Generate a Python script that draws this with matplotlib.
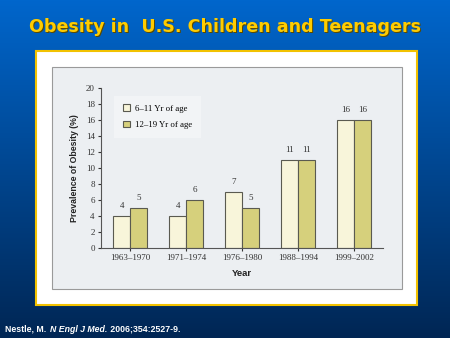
import matplotlib.pyplot as plt
from matplotlib.patches import Rectangle
import numpy as np

# survey periods and obesity prevalence (%) by age group
periods = ["1963\u20131970", "1971\u20131974", "1976\u20131980", "1988\u20131994", "1999\u20132002"]
age_6_11 = [4, 4, 7, 11, 16]
age_12_19 = [5, 6, 5, 11, 16]
series_names = ["6\u201311 Yr of age", "12\u201319 Yr of age"]

light = "#f8f5da"
olive = "#d6d07c"
edge = "#5a5a50"
serif = "Liberation Serif"

fig = plt.figure(figsize=(4.5, 3.38), dpi=100)

# slide background: blue gradient, pixel coordinates
bg = fig.add_axes([0, 0, 1, 1])
grad = np.linspace(0, 1, 256)[:, None]
top = np.array([0.0, 0.40, 0.80])
bot = np.array([0.0, 0.15, 0.33])
img = top[None, None, :] * (1 - grad[..., None]) + bot[None, None, :] * grad[..., None]
img = np.repeat(img, 2, axis=1)
bg.imshow(img, extent=[0, 450, 338, 0], aspect="auto")
bg.set_xlim(0, 450)
bg.set_ylim(338, 0)
bg.axis("off")

# white panel with yellow border, grey chart card inside
bg.add_patch(Rectangle((36, 51), 381, 254, facecolor="white", edgecolor="#f2c200", lw=1.5))
bg.add_patch(Rectangle((52, 67), 350, 222, facecolor="#eceff2", edgecolor="#9a9a9a", lw=0.8))

# title with drop shadow
title = "Obesity in  U.S. Children and Teenagers"
bg.text(226, 28, title, color="#5a4a00", fontsize=12.6, fontweight="bold",
        ha="center", va="center", family="DejaVu Sans")
bg.text(225, 27, title, color="#ffcc00", fontsize=12.6, fontweight="bold",
        ha="center", va="center", family="DejaVu Sans")

# citation line, pieces placed one after another
fig.canvas.draw()
renderer = fig.canvas.get_renderer()
xpos = 5
for piece, st in (("Nestle, M. ", "normal"), ("N Engl J Med.", "italic"), (" 2006;354:2527-9.", "normal")):
    t = bg.text(xpos, 329, piece, color="white", fontsize=6.3, fontweight="bold", style=st,
                ha="left", va="center", family="Liberation Sans")
    ext = t.get_window_extent(renderer)
    xpos += ext.width + 1

ax = fig.add_axes([0.2244, 0.2663, 0.6267, 0.4734])
ax.patch.set_alpha(0)

x = np.arange(len(periods))
w = 0.30
b1 = ax.bar(x - w / 2, age_6_11, w, color=light, edgecolor=edge, lw=0.8, label=series_names[0])
b2 = ax.bar(x + w / 2, age_12_19, w, color=olive, edgecolor=edge, lw=0.8, label=series_names[1])

for bars, vals in ((b1, age_6_11), (b2, age_12_19)):
    for r, v in zip(bars, vals):
        ax.text(r.get_x() + r.get_width() / 2, v + 0.7, str(v), ha="center", va="bottom",
                fontsize=6.5, color="#333333", family=serif)

ax.set_xlim(-0.52, 4.52)
ax.set_ylim(0, 20)
ax.set_yticks(range(0, 21, 2))
ax.set_xticks(x)
ax.set_xticklabels(periods)
ax.tick_params(axis="both", labelsize=6.5, colors="#333333", length=2.5, width=0.8, pad=2)
for lab in ax.get_xticklabels() + ax.get_yticklabels():
    lab.set_family(serif)
ax.spines["top"].set_visible(False)
ax.spines["right"].set_visible(False)
ax.spines["left"].set_color("#555555")
ax.spines["bottom"].set_color("#555555")

ax.set_ylabel("Prevalence of Obesity (%)", fontsize=6.3, fontweight="bold", color="#222222",
              family="Liberation Sans", labelpad=5)
ax.set_xlabel("Year", fontsize=6.8, fontweight="bold", color="#222222",
              family="Liberation Sans", labelpad=5)

leg = ax.legend(loc="upper left", bbox_to_anchor=(0.03, 0.98), frameon=True,
                handlelength=0.8, handleheight=0.8, borderpad=1.0, labelspacing=0.9,
                handletextpad=0.6, fancybox=False, prop={"family": serif, "size": 6.3})
leg.get_frame().set_facecolor("#f4f6f8")
leg.get_frame().set_edgecolor("none")

fig.savefig("out.png", dpi=100)
